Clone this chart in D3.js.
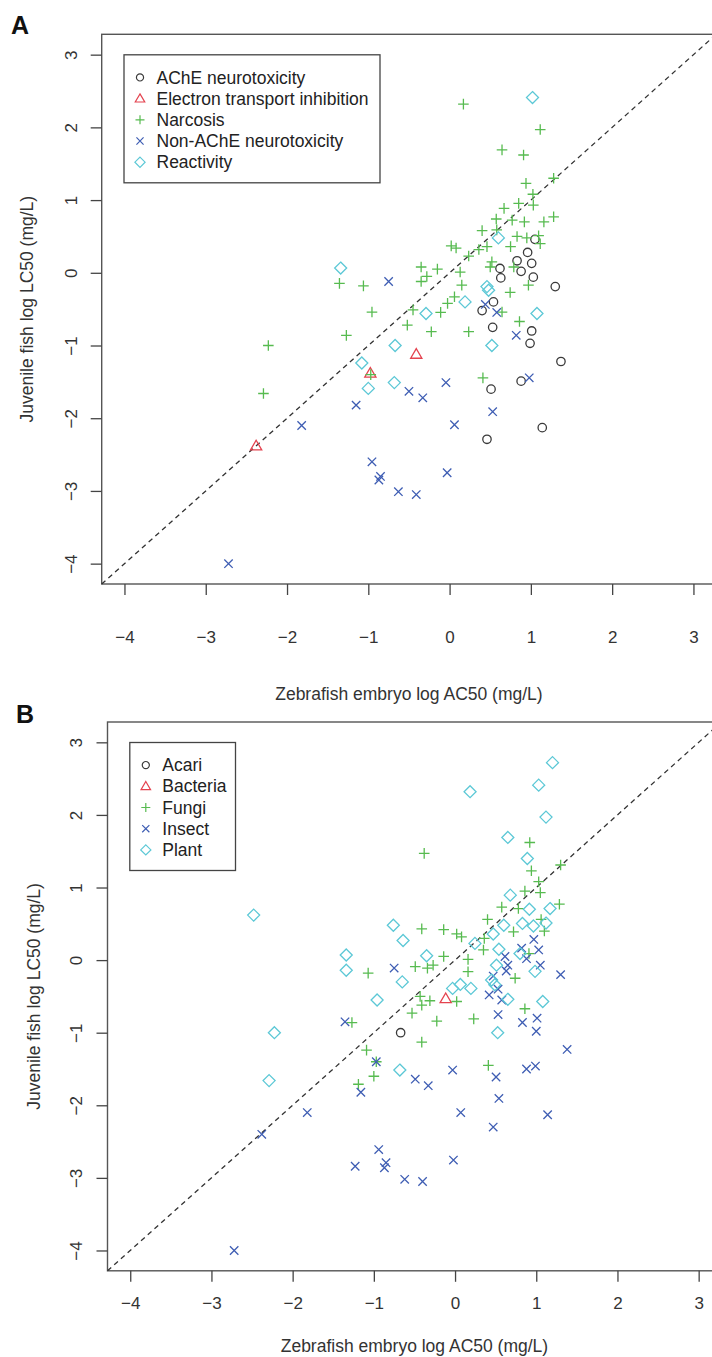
<!DOCTYPE html>
<html>
<head>
<meta charset="utf-8">
<script src="https://cdn.jsdelivr.net/npm/d3@7"></script>
<style>
  body { margin: 0; background: #fff; }
  svg { display: block; font-family: "Liberation Sans", Arial, sans-serif; }
</style>
</head>
<body>
<svg id="fig" width="712" height="1357"></svg>
<script>
// axis ticks (both axes, both panels)
const ticks = [-4, -3, -2, -1, 0, 1, 2, 3];
const domain = [-4.28, 3.28];

// panel A: mode of action  [x = zebrafish log AC50, y = fish log LC50]
const acheA = [
  [0.96, 0.28], [0.83, 0.165], [1.01, 0.13], [0.88, 0.02], [0.62, 0.06], [0.63, -0.07],
  [1.03, -0.06], [1.30, -0.19], [1.05, 0.46], [0.54, -0.40], [0.40, -0.52], [0.53, -0.75],
  [1.01, -0.80], [0.99, -0.97], [1.37, -1.22], [0.51, -1.60], [0.88, -1.49], [1.14, -2.13],
  [0.46, -2.29]
];
const electronA = [[-2.38, -2.38], [-0.975, -1.38], [-0.41, -1.12]];
const narcosisA = [
  [0.17, 2.32], [1.115, 1.97], [0.645, 1.69], [0.91, 1.62], [0.94, 1.23], [1.28, 1.30],
  [1.025, 1.08], [0.85, 0.955], [1.03, 0.93], [0.67, 0.886], [0.574, 0.74], [0.77, 0.725],
  [0.92, 0.70], [1.16, 0.70], [1.28, 0.77], [0.40, 0.58], [0.58, 0.59], [0.83, 0.50],
  [0.95, 0.48], [1.095, 0.51], [1.115, 0.40], [0.02, 0.37], [0.08, 0.34], [0.235, 0.23],
  [0.36, 0.32], [0.46, 0.36], [0.75, 0.36], [0.52, 0.15], [0.50, 0.08], [0.79, 0.08],
  [0.97, -0.17], [0.745, -0.27], [-0.35, 0.08], [-0.15, 0.05], [-0.28, -0.05], [-0.35, -0.12],
  [0.13, 0.01], [0.15, -0.17], [-1.06, -0.18], [-1.355, -0.146], [0.645, -0.54], [0.06, -0.33],
  [-0.025, -0.42], [-0.11, -0.545], [-0.45, -0.51], [-0.955, -0.54], [-0.52, -0.72],
  [-0.225, -0.81], [0.235, -0.81], [0.86, -0.67], [-1.27, -0.86], [-2.23, -1.0],
  [-2.29, -1.66], [-0.97, -1.40], [0.41, -1.445]
];
const nonAcheA = [
  [-0.75, -0.12], [0.44, -0.435], [0.58, -0.545], [0.82, -0.86], [-0.50, -1.63], [-0.33, -1.72],
  [-0.045, -1.51], [0.98, -1.445], [-1.15, -1.82], [0.53, -1.91], [0.06, -2.09], [-1.82, -2.1],
  [-0.955, -2.60], [-0.85, -2.80], [-0.87, -2.85], [-0.63, -3.01], [-0.41, -3.05], [-0.03, -2.75],
  [-2.72, -4.0]
];
const reactivityA = [
  [1.02, 2.41], [0.60, 0.48], [-1.34, 0.065], [0.46, -0.19], [0.48, -0.24], [0.19, -0.40],
  [-0.29, -0.56], [1.075, -0.56], [-0.67, -1.0], [0.52, -1.0], [-1.08, -1.24], [-1.0, -1.59],
  [-0.68, -1.51]
];

// panel B: target organism
const acariB = [[-0.67, -1.0]];
const bacteriaB = [[-0.115, -0.53]];
const fungiB = [
  [-0.38, 1.47], [0.92, 1.62], [0.94, 1.23], [1.30, 1.31], [1.03, 1.08], [0.86, 0.95],
  [1.05, 0.93], [0.575, 0.73], [0.78, 0.71], [1.285, 0.77], [-0.41, 0.43], [-0.14, 0.42],
  [0.02, 0.36], [0.08, 0.32], [0.40, 0.56], [1.06, 0.56], [1.10, 0.40], [0.72, 0.39],
  [0.36, 0.30], [0.35, 0.14], [0.91, 0.09], [-0.14, 0.05], [-0.27, -0.07], [-0.34, -0.11],
  [-0.49, -0.09], [-1.07, -0.18], [0.16, 0.01], [0.16, -0.16], [0.74, -0.25], [0.02, -0.57],
  [-0.31, -0.56], [-0.43, -0.50], [-0.41, -0.62], [-0.53, -0.73], [-1.27, -0.86],
  [-0.225, -0.84], [0.23, -0.81], [0.86, -0.67], [-0.41, -1.13], [-1.09, -1.24],
  [-0.97, -1.40], [-1.0, -1.60], [-1.19, -1.71], [0.41, -1.45]
];
const insectB = [
  [0.97, 0.285], [0.82, 0.165], [1.03, 0.14], [0.88, 0.02], [1.05, -0.07], [1.30, -0.20],
  [0.615, 0.05], [0.65, -0.07], [0.63, -0.15], [0.47, -0.22], [0.53, -0.40], [0.42, -0.48],
  [0.575, -0.55], [-0.75, -0.11], [-1.355, -0.85], [0.53, -0.75], [0.83, -0.86], [1.01, -0.80],
  [1.00, -0.98], [1.38, -1.23], [-0.97, -1.40], [-1.16, -1.82], [-0.49, -1.64], [-0.33, -1.73],
  [-0.03, -1.515], [0.505, -1.61], [0.88, -1.50], [0.99, -1.46], [0.54, -1.905], [0.07, -2.10],
  [1.14, -2.13], [0.47, -2.30], [-1.23, -2.84], [-0.94, -2.61], [-0.85, -2.79], [-0.87, -2.86],
  [-0.62, -3.02], [-0.40, -3.05], [-0.02, -2.755], [-1.82, -2.10], [-2.38, -2.40], [-2.72, -4.0]
];
const plantB = [
  [1.20, 2.72], [1.03, 2.41], [0.185, 2.32], [1.12, 1.97], [0.65, 1.69], [0.89, 1.40],
  [0.68, 0.895], [0.915, 0.70], [1.17, 0.71], [-0.76, 0.48], [-0.64, 0.27], [0.60, 0.48],
  [0.83, 0.505], [0.965, 0.47], [1.12, 0.51], [0.47, 0.36], [0.245, 0.23], [0.54, 0.15],
  [0.80, 0.09], [0.985, -0.155], [-0.35, 0.06], [-1.34, 0.07], [-1.34, -0.14], [-2.48, 0.62],
  [-0.65, -0.30], [-0.03, -0.39], [0.065, -0.335], [0.195, -0.39], [0.51, -0.07], [0.45, -0.275],
  [0.49, -0.34], [0.65, -0.54], [1.08, -0.57], [-0.96, -0.55], [0.525, -1.0], [-0.68, -1.515],
  [-2.225, -1.0], [-2.29, -1.66]
];

const labelsA = ["AChE neurotoxicity", "Electron transport inhibition", "Narcosis", "Non-AChE neurotoxicity", "Reactivity"];
const labelsB = ["Acari", "Bacteria", "Fungi", "Insect", "Plant"];

// R style pch 1..5
const shapes = ["circle", "triangle", "plus", "times", "diamond"];
const colors = ["#3a3a3a", "#e4434f", "#57bb50", "#3e5db3", "#5cc8d6"];

function symbolPath(shape) {
  switch (shape) {
    case "circle": return "M4.2,0A4.2,4.2 0 1,1 -4.2,0A4.2,4.2 0 1,1 4.2,0Z";
    case "triangle": return "M0,-5.6L5.6,4L-5.6,4Z";
    case "plus": return "M-5.3,0H5.3M0,-5.3V5.3";
    case "times": return "M-4.2,-4.2L4.2,4.2M-4.2,4.2L4.2,-4.2";
    case "diamond": return "M0,-6L6,0L0,6L-6,0Z";
  }
}

const svg = d3.select("#fig");

function drawPanel(p) {
  const x = d3.scaleLinear().domain(domain).range([p.left, p.left + p.w]);
  const y = d3.scaleLinear().domain(domain).range([p.top + p.h, p.top]);
  const g = svg.append("g");

  // panel letter
  g.append("text")
    .attr("x", p.letterX).attr("y", p.letterY)
    .attr("font-size", 25).attr("font-weight", "bold").attr("fill", "#111")
    .text(p.letter);

  // box
  g.append("rect")
    .attr("x", p.left).attr("y", p.top)
    .attr("width", p.w).attr("height", p.h)
    .attr("fill", "none").attr("stroke", "#555").attr("stroke-width", 1.4);

  // x axis
  const xa = g.append("g")
    .attr("transform", `translate(0,${p.top + p.h})`)
    .call(d3.axisBottom(x).tickValues(ticks).tickSize(11).tickFormat(d => d3.format("d")(d).replace("-", "\u2212")));
  xa.select(".domain").remove();
  xa.selectAll("line").attr("stroke", "#444").attr("stroke-width", 1.3);
  xa.selectAll("text")
    .attr("font-size", 17).attr("fill", "#333")
    .attr("font-family", "Liberation Sans, Arial, sans-serif")
    .attr("y", p.xTickOff).attr("dy", "0.35em");

  // y axis, labels parallel to axis like R
  const ya = g.append("g")
    .attr("transform", `translate(${p.left},0)`)
    .call(d3.axisLeft(y).tickValues(ticks).tickSize(11).tickFormat(d => d3.format("d")(d).replace("-", "\u2212")));
  ya.select(".domain").remove();
  ya.selectAll("line").attr("stroke", "#444").attr("stroke-width", 1.3);
  ya.selectAll("text")
    .attr("font-size", 17).attr("fill", "#333")
    .attr("font-family", "Liberation Sans, Arial, sans-serif")
    .attr("x", null).attr("dy", "0.35em")
    .attr("text-anchor", "middle")
    .attr("transform", `translate(${-p.yTickOff},0) rotate(-90)`);

  // axis titles
  g.append("text")
    .attr("x", p.left + p.w / 2).attr("y", p.top + p.h + p.xTitleOff)
    .attr("dy", "0.35em").attr("text-anchor", "middle")
    .attr("font-size", 17.5).attr("fill", "#333")
    .text("Zebrafish embryo log AC50 (mg/L)");
  g.append("text")
    .attr("transform", `translate(${p.left - p.yTitleOff},${p.top + p.h / 2}) rotate(-90)`)
    .attr("dy", "0.35em").attr("text-anchor", "middle")
    .attr("font-size", 17.5).attr("fill", "#333")
    .text("Juvenile fish log LC50 (mg/L)");

  // 1:1 line
  g.append("line")
    .attr("x1", x(domain[0])).attr("y1", y(domain[0]))
    .attr("x2", x(domain[1])).attr("y2", y(domain[1]))
    .attr("stroke", "#333").attr("stroke-width", 1.3)
    .attr("stroke-dasharray", "5,4");

  // points
  p.series.forEach((s, i) => {
    g.append("g").selectAll("path")
      .data(s)
      .enter()
      .append("path")
      .attr("transform", d => `translate(${x(d[0])},${y(d[1])})`)
      .attr("d", symbolPath(shapes[i]))
      .attr("fill", "none")
      .attr("stroke", colors[i])
      .attr("stroke-width", 1.3);
  });

  // legend
  const lg = g.append("g").attr("transform", `translate(${p.left + 22.3},${p.top + 20.5})`);
  lg.append("rect")
    .attr("width", p.legendW).attr("height", 128)
    .attr("fill", "#fff").attr("stroke", "#444").attr("stroke-width", 1.3);
  p.labels.forEach((lab, i) => {
    const row = lg.append("g").attr("transform", `translate(0,${22.6 + i * 21.2})`);
    row.append("path")
      .attr("transform", "translate(16,0) scale(0.85)")
      .attr("d", symbolPath(shapes[i]))
      .attr("fill", "none").attr("stroke", colors[i]).attr("stroke-width", 1.4);
    row.append("text")
      .attr("x", 32.5).attr("dy", "0.35em")
      .attr("font-size", 17.5).attr("fill", "#222")
      .text(lab);
  });
}

drawPanel({
  letter: "A", letterX: 11, letterY: 34,
  left: 101.7, top: 34.3, w: 614.5, h: 549.7,
  xTickOff: 53, xTitleOff: 110, yTickOff: 31, yTitleOff: 75,
  legendW: 256,
  labels: labelsA,
  series: [acheA, electronA, narcosisA, nonAcheA, reactivityA]
});

drawPanel({
  letter: "B", letterX: 16, letterY: 723,
  left: 107.5, top: 722, w: 613.9, h: 548.8,
  xTickOff: 32, xTitleOff: 75, yTickOff: 31, yTitleOff: 74,
  legendW: 105.7,
  labels: labelsB,
  series: [acariB, bacteriaB, fungiB, insectB, plantB]
});
</script>
</body>
</html>
